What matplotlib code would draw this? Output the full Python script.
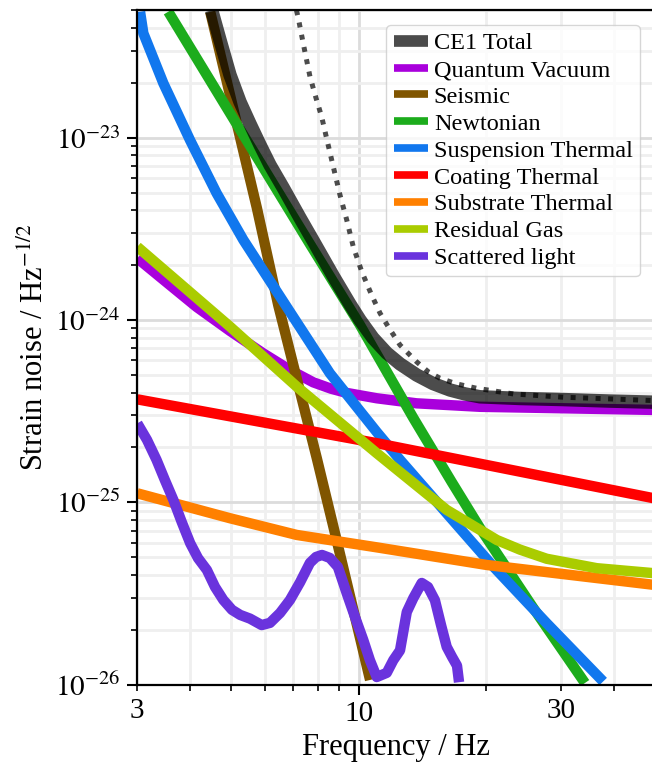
import numpy as np
import matplotlib
matplotlib.use('Agg')
import matplotlib.pyplot as plt
from matplotlib.ticker import FixedLocator, FuncFormatter, NullFormatter

# values (frequency in Hz, strain ASD in 1/sqrt(Hz))
quantum_f = [3.0, 3.46, 4.14, 4.97, 5.95, 6.88, 7.81, 8.6, 9.37, 11.03, 13.7, 19.34, 30.0, 50.0]
quantum_h = [2.18e-24, 1.66e-24, 1.18e-24, 8.7e-25, 6.56e-25, 5.32e-25, 4.55e-25, 4.2e-25,
             3.98e-25, 3.72e-25, 3.49e-25, 3.34e-25, 3.28e-25, 3.21e-25]

seismic_f = [4.46, 5.75, 6.46, 7.96, 8.87, 10.64]
seismic_h = [4.9e-23, 4.1e-24, 1.2e-24, 1.75e-25, 6.2e-26, 1.06e-26]

newton_f = [3.55, 4.97, 7.67, 10.07, 13.46, 16.59, 19.34, 25.85, 34.23]
newton_h = [4.91e-23, 1.36e-23, 2.61e-24, 9.39e-25, 2.90e-25, 1.29e-25, 7.23e-26,
            2.63e-26, 1.02e-26]

susp_f = [3.045, 3.10, 3.456, 3.996, 4.62, 5.34, 6.76, 8.55, 11.03, 12.52, 16.14,
          20.8, 27.8, 37.8]
susp_h = [4.91e-23, 3.74e-23, 1.99e-23, 9.7e-24, 4.95e-24, 2.75e-24, 1.18e-24,
          5.1e-25, 2.43e-25, 1.71e-25, 8.7e-26, 4.44e-26, 2.17e-26, 1.04e-26]

coating_f = [3.0, 11.03, 50.0]
coating_h = [3.67e-25, 2.11e-25, 1.05e-25]

substrate_f = [3.0, 4.97, 7.14, 11.03, 20.06, 50.0]
substrate_h = [1.12e-25, 8.17e-26, 6.62e-26, 5.66e-26, 4.53e-26, 3.52e-26]

gas_f = [3.0, 4.97, 7.14, 11.03, 16.14, 21.2, 24.04, 27.8, 36.5, 50.0]
gas_h = [2.52e-24, 9.18e-25, 4.31e-25, 1.86e-25, 9.08e-26, 6.21e-26, 5.5e-26, 4.9e-26,
         4.35e-26, 4.08e-26]

scatter_f = [3.0, 3.162, 3.33, 3.487, 3.65, 3.819, 4.0, 4.173, 4.38, 4.578, 4.79, 5.021,
             5.25, 5.538, 5.90, 6.173, 6.52, 6.88, 7.27, 7.67, 7.93, 8.19, 8.55, 8.93,
             9.37, 9.80, 10.25, 10.63, 11.03, 11.65, 12.07, 12.52, 12.99, 13.46, 14.09,
             14.58, 15.14, 15.65, 16.14, 16.61, 17.07, 17.26]
scatter_h = [2.71e-25, 2.20e-25, 1.71e-25, 1.32e-25, 1.03e-25, 7.80e-26, 5.96e-26,
             4.94e-26, 4.25e-26, 3.43e-26, 2.91e-26, 2.57e-26, 2.41e-26, 2.30e-26,
             2.12e-26, 2.18e-26, 2.47e-26, 2.91e-26, 3.64e-26, 4.65e-26, 5.01e-26,
             5.14e-26, 4.95e-26, 4.42e-26, 3.17e-26, 2.35e-26, 1.76e-26, 1.36e-26,
             1.10e-26, 1.16e-26, 1.36e-26, 1.54e-26, 2.50e-26, 2.98e-26, 3.61e-26,
             3.43e-26, 2.90e-26, 2.12e-26, 1.61e-26, 1.42e-26, 1.27e-26, 1.03e-26]

total_f = [4.496, 4.703, 4.966, 5.245, 5.538, 5.847, 6.173, 6.636, 7.268, 7.886, 8.71,
           9.539, 10.07, 10.81, 11.65, 12.52, 13.71, 14.98, 16.43, 17.83, 19.34, 24.04,
           30.38, 39.22, 50.0]
total_h = [5.0e-23, 3.44e-23, 2.21e-23, 1.57e-23, 1.19e-23, 9.12e-24, 7.08e-24, 5.30e-24,
           3.63e-24, 2.61e-24, 1.74e-24, 1.22e-24, 1.0e-24, 7.96e-25, 6.59e-25, 5.74e-25,
           4.99e-25, 4.48e-25, 4.13e-25, 3.93e-25, 3.79e-25, 3.71e-25, 3.66e-25,
           3.59e-25, 3.54e-25]

dotted_f = [7.13, 7.201, 7.426, 7.674, 7.929, 8.178, 8.417, 8.71, 9.033, 9.37, 9.711,
            10.17, 10.73, 11.23, 11.75, 12.52, 13.71, 14.60, 15.56, 17.04, 19.0, 23.18,
            30.43, 39.22, 50.0]
dotted_h = [5.0e-23, 4.52e-23, 3.14e-23, 2.16e-23, 1.65e-23, 1.30e-23, 9.71e-24,
            6.93e-24, 4.85e-24, 3.54e-24, 2.52e-24, 1.84e-24, 1.37e-24, 1.09e-24,
            9.16e-25, 7.29e-25, 5.89e-25, 5.20e-25, 4.79e-25, 4.46e-25, 4.22e-25,
            3.93e-25, 3.77e-25, 3.69e-25, 3.61e-25]

plt.rcParams['font.family'] = 'serif'
plt.rcParams['font.serif'] = ['Liberation Serif', 'DejaVu Serif']
plt.rcParams['mathtext.fontset'] = 'stix'

fig = plt.figure(figsize=(6.52, 7.66), dpi=100)
ax = fig.add_axes([0.2106, 0.1063, 0.7934, 0.8803])

lw = 7.5
curves = [
    (quantum_f, quantum_h, '#a900dc', 'Quantum Vacuum'),
    (seismic_f, seismic_h, '#805500', 'Seismic'),
    (newton_f, newton_h, '#1cac1c', 'Newtonian'),
    (susp_f, susp_h, '#1177ee', 'Suspension Thermal'),
    (coating_f, coating_h, '#ff0000', 'Coating Thermal'),
    (substrate_f, substrate_h, '#ff8000', 'Substrate Thermal'),
    (gas_f, gas_h, '#aacc00', 'Residual Gas'),
    (scatter_f, scatter_h, '#6a33dd', 'Scattered light'),
]
handles = []
for f, h, c, name in curves:
    line, = ax.loglog(f, h, color=c, lw=lw, label=name, solid_capstyle='butt')
    handles.append(line)

total, = ax.loglog(total_f, total_h, color='k', alpha=0.7, lw=9.7, label='CE1 Total',
                   solid_capstyle='butt')
ax.loglog(dotted_f, dotted_h, color='k', alpha=0.7, lw=3.6, dashes=(1, 1.5))

ax.set_xlim(3, 50)
ax.set_ylim(1e-26, 5e-23)

# x ticks: decade major, labels on 3, 10, 30
ax.xaxis.set_major_locator(FixedLocator([10]))
ax.xaxis.set_minor_locator(FixedLocator([3, 4, 5, 6, 7, 8, 9, 20, 30, 40]))
ax.xaxis.set_major_formatter(FuncFormatter(lambda x, _: '10'))
ax.xaxis.set_minor_formatter(FuncFormatter(lambda x, _: f'{x:g}' if x in (3, 30) else ''))

decades = [1e-26, 1e-25, 1e-24, 1e-23]
ax.yaxis.set_major_locator(FixedLocator(decades))
ax.yaxis.set_minor_locator(FixedLocator([m * d for d in decades for m in range(2, 10) if m * d <= 5e-23]))
ax.yaxis.set_major_formatter(FuncFormatter(lambda y, _: r'$10^{%d}$' % round(np.log10(y))))
ax.yaxis.set_minor_formatter(NullFormatter())

ax.set_axisbelow(True)
ax.grid(True, which='major', color='#dcdcdc', lw=2)
ax.grid(True, which='minor', color='#efefef', lw=2)

ax.tick_params(which='both', direction='out', labelsize=21, pad=5)
ax.tick_params(which='major', length=7, width=1.5)
ax.tick_params(which='minor', length=4.5, width=1.2)
for s in ax.spines.values():
    s.set_linewidth(1.6)

ax.set_xlabel('Frequency / Hz', fontsize=22)
ax.set_ylabel(r'Strain noise / Hz$^{-1/2}$', fontsize=22)

leg = ax.legend(handles=[total] + handles, loc='upper right', fontsize=17.5,
                handlelength=1.4, handletextpad=0.25, labelspacing=0.2, borderpad=0.3,
                borderaxespad=0.6)
for i, l in enumerate(leg.get_lines()):
    l.set_linewidth(8.4 if i == 0 else 5.5)

fig.savefig('out.png', dpi=100)
